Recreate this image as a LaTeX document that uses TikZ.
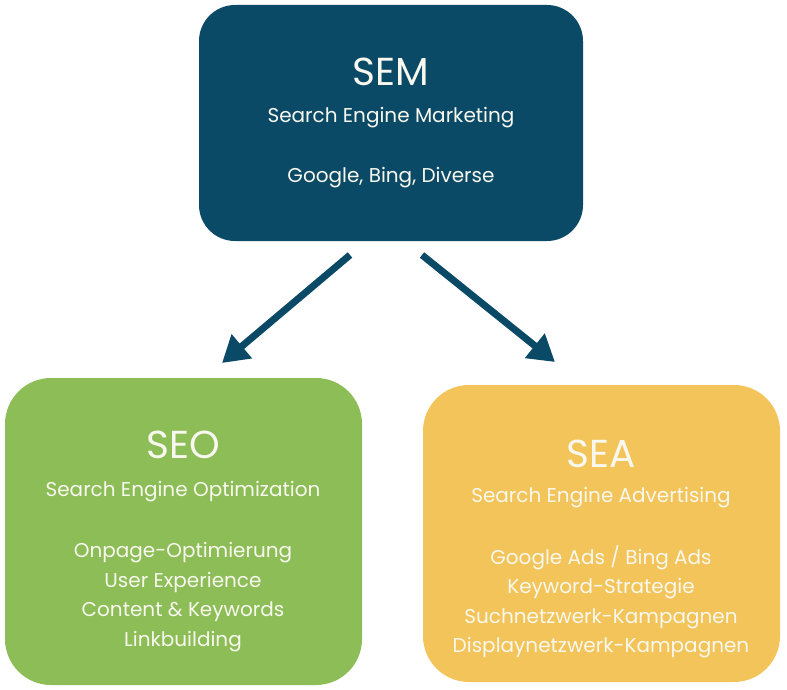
\documentclass[tikz,border=0pt]{standalone}
\usepackage{fontspec}
\setmainfont{Poppins}
\usetikzlibrary{arrows.meta}
\definecolor{semblue}{HTML}{0B4A66}
\definecolor{seogreen}{HTML}{8CBD57}
\definecolor{seayellow}{HTML}{F2C45A}
\definecolor{lighttext}{HTML}{F8F8EE}
\tikzset{
  box/.style={rounded corners=#1, inner sep=0pt},
  title/.style={text=lighttext, font=\fontsize{39}{39}\selectfont, inner sep=0pt},
  sub/.style={text=lighttext, font=\fontsize{20}{20}\selectfont, inner sep=0pt},
  item/.style={text=lighttext, font=\fontsize{20}{29.5}\selectfont, inner sep=0pt, align=center},
  conn/.style={draw=semblue, line width=7pt, -{Triangle[length=26pt,width=30pt]}}
}
\begin{document}
\begin{tikzpicture}[x=1pt,y=-1pt]
\useasboundingbox (0,0) rectangle (787,690);
% boxes
\fill[semblue,rounded corners=36pt] (199,5) rectangle (583,241);
\node[box=36pt, minimum width=384pt, minimum height=236pt] (sem) at (391,123) {};
\fill[seogreen,rounded corners=46pt] (5,378) rectangle (362,685);
\node[box=46pt, minimum width=357pt, minimum height=307pt] (seo) at (183.5,531.5) {};
\fill[seayellow,rounded corners=46pt] (423,385) rectangle (780,682);
\node[box=46pt, minimum width=357pt, minimum height=297pt] (sea) at (601.5,533.5) {};
% SEM text
\node[title] (semt) at (391,72) {SEM};
\node[sub] (sems) at (391,118) {Search Engine Marketing};
\node[sub] (semi) at (391,178) {Google, Bing, Diverse};
% SEO text
\node[title] (seot) at (183,445) {SEO};
\node[sub] (seos) at (183,492) {Search Engine Optimization};
\node[item] (seoi) at (183,597) {Onpage-Optimierung\\User Experience\\Content \& Keywords\\Linkbuilding};
% SEA text
\node[title] (seat) at (601,454) {SEA};
\node[sub] (seas) at (601,498) {Search Engine Advertising};
\node[item] (seai) at (601,602) {Google Ads / Bing Ads\\Keyword-Strategie\\Suchnetzwerk-Kampagnen\\Displaynetzwerk-Kampagnen};
% arrows
\coordinate (a1s) at (350,255);
\coordinate (a1e) at (222,363);
\coordinate (a2s) at (422,255);
\coordinate (a2e) at (555,362);
\draw[conn] (a1s) -- (a1e);
\draw[conn] (a2s) -- (a2e);
\end{tikzpicture}
\end{document}
